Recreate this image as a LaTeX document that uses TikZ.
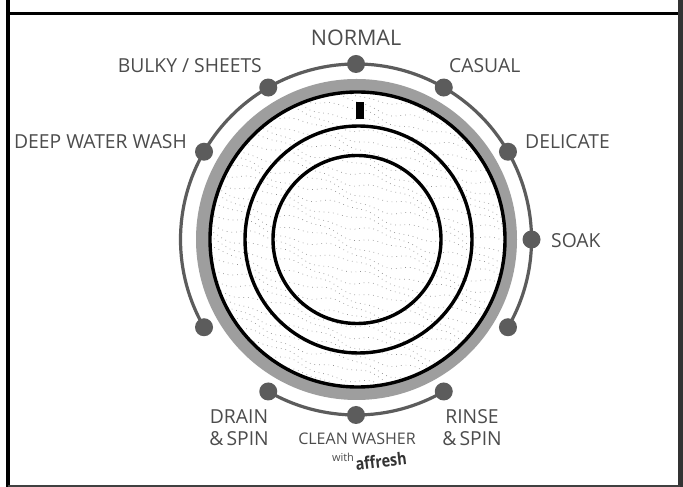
\documentclass[tikz,border=0pt]{standalone}
\usepackage{fontspec}
\usetikzlibrary{calc}
\setmainfont{Open Sans}
\definecolor{txt}{gray}{0.3}
\definecolor{dotc}{gray}{0.36}
\definecolor{ringc}{gray}{0.62}
\pgfdeclarelayer{under}
\pgfsetlayers{under,main}
\tikzset{
  dial/.style={circle,fill=dotc,minimum size=18pt,inner sep=0pt},
  lbl/.style={text=txt,font=\fontsize{19.3}{22}\selectfont,inner sep=0pt,align=center},
  track/.style={draw=dotc,line width=3.2pt},
  bk/.style={draw=black,line width=3.4pt},
  tex/.style={draw=gray!85,line width=0.7pt,dash pattern=on 0.7pt off 4pt}
}
\begin{document}
\begin{tikzpicture}[x=1pt,y=1pt]
\useasboundingbox (0,0) rectangle (683,487);
\begin{pgfonlayer}{under}
\fill[white] (0,0) rectangle (683,487);
\end{pgfonlayer}
% frame
\draw[draw=black,line width=3.5pt] (8,487) -- (8,0);
\draw[draw=black,line width=3.5pt] (8,473.5) -- (680,473.5);
\draw[draw=black!80,line width=5pt] (680.5,487) -- (680.5,0);
\draw[draw=black!75,line width=2pt] (8,0.5) -- (680,0.5);
\coordinate (c) at (356,247.5);
% grey ring
\draw[draw=ringc,line width=13pt] (356.5,247.5) circle[radius=154];
% texture
\begin{scope}
\clip (357.5,247.5) circle[radius=147.5];
\foreach \yy in {70,79,...,440}{
  \draw[tex] plot[domain=205:510,samples=50,smooth] (\x,{\yy-0.28*(\x-356)+3*sin(\x*4+\yy*7)+1.5*sin(\x*9)});
}
\end{scope}
% black rings
\draw[bk] (357.5,247.5) circle[radius=147.5];
\draw[bk] (358.5,247.5) circle[radius=113.5];
\draw[bk] (357,247.5) circle[radius=84];
\fill[black] (356,368) rectangle (364,385);
% dial points
\foreach \n/\a in {nrm/90,cas/60,del/30,soa/0,low/-30,rin/-60,cln/-90,drn/-120,lol/-150,dep/150,blk/120}{
  \node[dial] (\n) at ($(c)+(\a:175.5)$) {};
}
% tracks
\begin{pgfonlayer}{under}
\draw[track] (low.center) arc[start angle=-30,end angle=210,radius=175.5];
\draw[track] (rin.center) arc[start angle=-60,end angle=-120,radius=175.5];
\end{pgfonlayer}
% labels
\node[lbl,anchor=mid,font=\fontsize{21.5}{24}\selectfont] (tn) at (356,444) {NORMAL};
\node[lbl,anchor=mid west] (tc) at (449,417) {CASUAL};
\node[lbl,anchor=mid east] (tb) at (262,417) {BULKY / SHEETS};
\node[lbl,anchor=mid east] (td) at (187,341) {DEEP WATER WASH};
\node[lbl,anchor=mid west] (tl) at (525,341) {DELICATE};
\node[lbl,anchor=mid west] (ts) at (551,242) {SOAK};
\node[lbl,anchor=center] (tdr) at (239,59) {DRAIN\\\&\,SPIN};
\node[lbl,anchor=center] (tri) at (472,59) {RINSE\\\&\,SPIN};
\node[text=txt,font=\fontsize{16}{18}\selectfont,inner sep=0pt] (tw) at (357,48) {CLEAN WASHER};
\node[text=txt,font=\fontsize{11}{13}\selectfont,inner sep=0pt] (tx) at (343,30) {with};
\node[text=black!80,font=\fontsize{17}{19}\selectfont\bfseries,inner sep=0pt,rotate=7,xscale=0.85] (ta) at (381,26) {affresh};
\end{tikzpicture}
\end{document}
